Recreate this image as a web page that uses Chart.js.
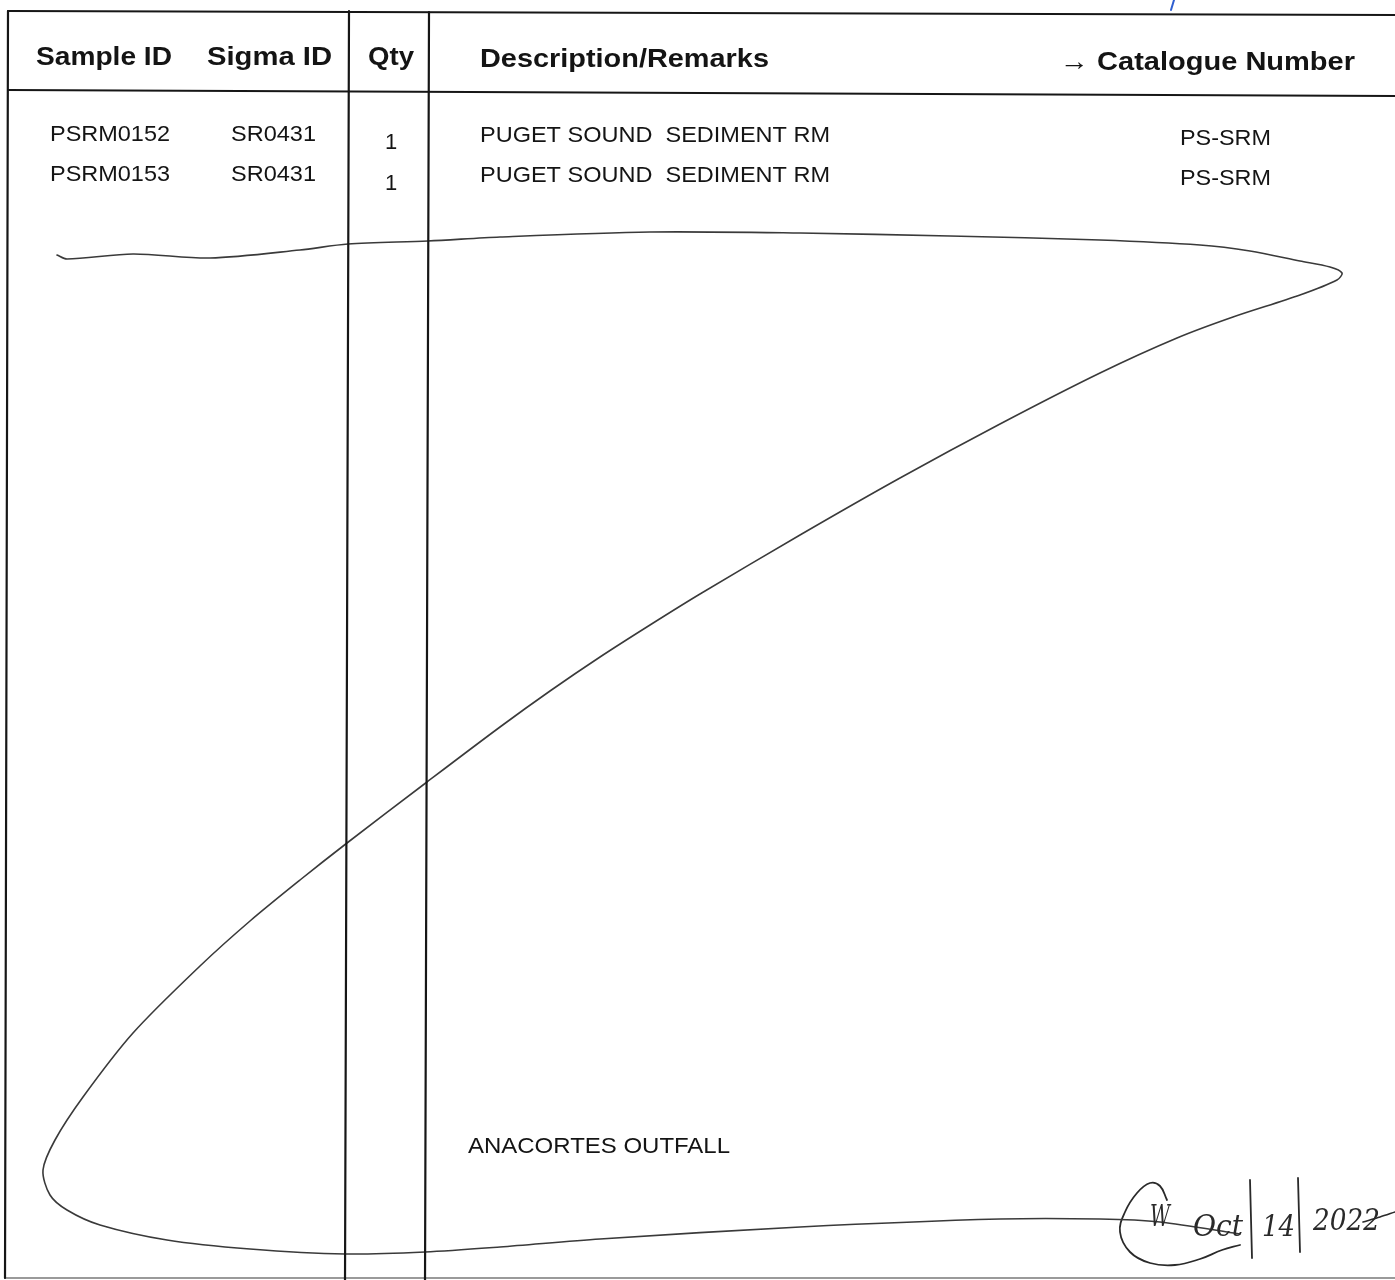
<!DOCTYPE html>
<html>
<head>
<meta charset="utf-8">
<script src="https://cdn.jsdelivr.net/npm/chart.js@4"></script>
<style>
  html, body { margin: 0; padding: 0; background: #fff; }
  #wrap { width: 1395px; height: 1280px; }
</style>
</head>
<body>
<div id="wrap"><canvas id="form_chart" width="1395" height="1280"></canvas></div>
<script>
// table contents
var headers = ['Sample ID', 'Sigma ID', 'Qty', 'Description/Remarks', '\u2192 Catalogue Number'];
var sampleIds = ['PSRM0152', 'PSRM0153'];
var sigmaIds = ['SR0431', 'SR0431'];
var quantities = [1, 1];
var descriptions = ['PUGET SOUND  SEDIMENT RM', 'PUGET SOUND  SEDIMENT RM'];
var catalogueNumbers = ['PS-SRM', 'PS-SRM'];
var remark = 'ANACORTES OUTFALL';
var signInitial = 'W';
var signDate = ['Oct', '14', '2022'];

// table rules (page units, y grows downward)
var ruleX = [[8, 1395], [8, 1395], [8, 5], [349, 345], [429, 425], [5, 1395]];
var ruleY = [[11, 15], [90, 96], [11, 1278], [11, 1280], [12, 1280], [1278, 1278]];

// the big hand-drawn strike line
var strikeX = [57, 67, 133, 210, 300, 348, 428, 500, 650, 800, 950, 1100, 1200, 1250, 1300, 1330, 1342, 1337,
  1300, 1233, 1177, 1100, 1000, 900, 800, 700, 650, 600, 550, 500, 427, 347, 300, 250, 200, 133, 83, 55, 43, 50, 67,
  100, 167, 250, 345, 425, 500, 600, 800, 1000, 1100, 1160, 1240];
var strikeY = [255, 259, 254, 258, 250, 244, 241, 237, 232, 233, 236, 240, 245, 251, 261, 267, 273, 280,
  295, 317, 338, 373, 424, 478, 535, 594, 625, 657, 691, 727, 782, 843, 880, 921, 966, 1033, 1097, 1140, 1170, 1195, 1210,
  1225, 1240, 1249, 1254, 1252, 1247, 1239, 1227, 1219, 1219, 1222, 1234];

// signature loop, date separators and tail
var loopX = [1167, 1160, 1150, 1137, 1125, 1120, 1130, 1150, 1175, 1200, 1222, 1240];
var loopY = [1200, 1186, 1183, 1193, 1212, 1232, 1252, 1263, 1265, 1259, 1250, 1245];
var barX = [[1250, 1252], [1298, 1300]];
var barY = [[1180, 1258], [1178, 1252]];
var tailX = [1363, 1380, 1395];
var tailY = [1222, 1217, 1212];

// blue pen mark at the top edge
var penX = [1171, 1174];
var penY = [10, 0];

function pts(xs, ys) {
    return xs.map(function (x, i) { return { x: x, y: ys[i] }; });
}

function lineSet(data, color, width, tension) {
    return {
        data: data,
        showLine: true,
        borderColor: color,
        borderWidth: width,
        pointRadius: 0,
        tension: tension || 0,
        borderCapStyle: 'round',
        borderJoinStyle: 'round',
        fill: false,
        clip: false
    };
}

var datasets = [];
ruleX.forEach(function (xs, i) {
    datasets.push(lineSet(pts(xs, ruleY[i]), i === 5 ? '#9a9a9a' : '#161616', 2.2));
});
datasets.push(lineSet(pts(strikeX, strikeY), '#3a3a3a', 1.6, 0.3));
datasets.push(lineSet(pts(loopX, loopY), '#2a2a2a', 1.8, 0.4));
barX.forEach(function (xs, i) {
    datasets.push(lineSet(pts(xs, barY[i]), '#2a2a2a', 1.8));
});
datasets.push(lineSet(pts(tailX, tailY), '#2a2a2a', 1.6, 0.3));
datasets.push(lineSet(pts(penX, penY), '#2f5fd0', 2));

// text layout: [text, left x, baseline y, width, font]
function textItems() {
    var bold = 'bold 26px "Liberation Sans", Arial, sans-serif';
    var reg = '22px "Liberation Sans", Arial, sans-serif';
    var hand = 'italic 30px "DejaVu Serif", serif';
    var items = [
        [headers[0], 36, 65, 136, bold],
        [headers[1], 207, 65, 125, bold],
        [headers[2], 368, 65, 46, bold],
        [headers[3], 480, 67, 289, bold],
        [headers[4], 1060, 70, 295, bold],
        [remark, 468, 1153, 262, reg],
        [signInitial, 1150, 1226, 20, hand],
        [signDate[0], 1193, 1236, 50, hand],
        [signDate[1], 1262, 1236, 33, hand],
        [signDate[2], 1313, 1230, 67, hand]
    ];
    var rowBase = [[141, 149, 142, 145], [181, 190, 182, 185]];
    sampleIds.forEach(function (s, i) {
        var b = rowBase[i];
        items.push([s, 50, b[0], 120, reg]);
        items.push([sigmaIds[i], 231, b[0], 85, reg]);
        items.push([String(quantities[i]), 385, b[1], 0, reg]);
        items.push([descriptions[i], 480, b[2], 350, reg]);
        items.push([catalogueNumbers[i], 1180, b[3], 91, reg]);
    });
    return items;
}

var formText = {
    id: 'formText',
    afterDatasetsDraw: function (chart) {
        var ctx = chart.ctx;
        var sx = chart.scales.x, sy = chart.scales.y;
        ctx.save();
        ctx.textBaseline = 'alphabetic';
        ctx.textAlign = 'left';
        textItems().forEach(function (t) {
            ctx.font = t[4];
            ctx.fillStyle = t[4].indexOf('italic') === 0 ? '#2a2a2a' : '#141414';
            var w = ctx.measureText(t[0]).width;
            var k = t[3] > 0 ? t[3] / w : 1;
            ctx.save();
            ctx.translate(sx.getPixelForValue(t[1]), sy.getPixelForValue(t[2]));
            ctx.scale(k, 1);
            ctx.fillText(t[0], 0, 0);
            ctx.restore();
        });
        ctx.restore();
    }
};

var paper = {
    id: 'paper',
    beforeDraw: function (chart) {
        var ctx = chart.ctx;
        ctx.save();
        ctx.fillStyle = '#ffffff';
        ctx.fillRect(0, 0, chart.width, chart.height);
        ctx.restore();
    }
};

var ctx = document.getElementById('form_chart').getContext('2d');
var formChart = new Chart(ctx, {
    type: 'scatter',
    data: { datasets: datasets },
    options: {
        responsive: false,
        animation: false,
        events: [],
        layout: { padding: 0 },
        plugins: { legend: { display: false }, tooltip: { enabled: false } },
        scales: {
            x: { type: 'linear', min: 0, max: 1395, display: false },
            y: { type: 'linear', min: 0, max: 1280, reverse: true, display: false }
        }
    },
    plugins: [paper, formText]
});
</script>
</body>
</html>
